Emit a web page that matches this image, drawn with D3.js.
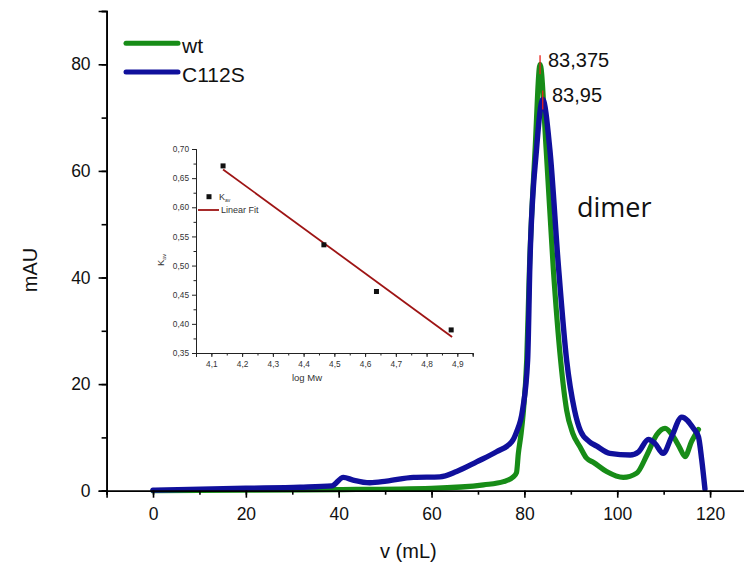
<!DOCTYPE html>
<html>
<head>
<meta charset="utf-8">
<script src="https://cdn.jsdelivr.net/npm/d3@7"></script>
<style>
  html, body { margin: 0; padding: 0; background: #fff; }
  svg { display: block; }
</style>
</head>
<body>
<svg id="chart" width="744" height="566"></svg>
<script>
// ---------------- data ----------------
const seriesNames = ["wt", "C112S"];
const seriesColors = ["#178c17", "#10109c"];

const wtV = [0, 20, 40, 60, 71.2, 75.5, 77.6, 78.3, 78.7, 79.3, 79.8, 80.5, 81.1, 82.3, 83.375, 84.7, 86.2, 87.8, 89.1, 90.4, 92, 93.4, 94.9, 97.7, 101.3, 104.2, 106.4, 108.5, 110.3, 112.1, 113.5, 114.6, 116.0, 117.5];
const wtY = [0, 0.1, 0.2, 0.45, 1.1, 1.7, 2.6, 3.4, 7, 10.8, 15.1, 24.5, 42, 63.9, 80, 63.9, 42, 24.5, 15.1, 10.8, 8.2, 6.1, 5.3, 3.6, 2.5, 3.3, 6.7, 10.5, 11.7, 10.1, 8.0, 6.4, 9.2, 11.5];

const mutV = [0, 20, 31.7, 38.5, 41.0, 43.1, 46.7, 50.3, 56.1, 61.8, 65.4, 69.7, 74.0, 77.3, 78.3, 79.6, 80.7, 81.2, 82.6, 83.95, 85.5, 87.3, 89.1, 90.8, 92.1, 94.0, 95.5, 98.4, 102.8, 104.6, 106.7, 108.1, 109.9, 111.7, 113.9, 116.4, 117.5, 118.2, 118.9];
const mutY = [0.1, 0.45, 0.65, 0.9, 2.5, 2.0, 1.5, 1.8, 2.5, 2.6, 3.6, 5.4, 7.3, 9.2, 11.0, 15.1, 24.5, 43, 63.9, 73.4, 63.9, 42.5, 24.5, 15.1, 11.2, 9.2, 8.4, 7.0, 6.7, 7.3, 9.6, 8.9, 7.0, 10.1, 13.8, 11.7, 10.1, 5.8, 0.3];

const xTicksMajor = [0, 20, 40, 60, 80, 100, 120];
const yTicksMajor = [0, 20, 40, 60, 80];

const peakLabels = ["83,375", "83,95"];
const peakX = [83.375, 83.95];
const peakY = [80, 73.4];

// inset calibration
const insetLogMw = [4.138, 4.466, 4.637, 4.880];
const insetKav = [0.671, 0.5356, 0.4555, 0.3896];
const fitX = [4.138, 4.883];
const fitY = [0.665, 0.3775];
const insetXTicks = [4.1, 4.2, 4.3, 4.4, 4.5, 4.6, 4.7, 4.8, 4.9];
const insetYTicks = [0.35, 0.40, 0.45, 0.50, 0.55, 0.60, 0.65, 0.70];

// ---------------- chart ----------------
const svg = d3.select("#chart");
const FONT = "'Liberation Sans', Arial, sans-serif";

const x = d3.scaleLinear().domain([-10, 130]).range([106.6, 756.5]);
const y = d3.scaleLinear().domain([0, 90]).range([490.7, 11]);

// curves
const line = d3.line().x(d => x(d[0])).y(d => y(d[1])).curve(d3.curveMonotoneX);
const wtData = wtV.map((v, i) => [v, wtY[i]]);
const mutData = mutV.map((v, i) => [v, mutY[i]]);

svg.append("path").datum(wtData).attr("d", line)
  .attr("fill", "none").attr("stroke", seriesColors[0]).attr("stroke-width", 5.2)
  .attr("stroke-linejoin", "round").attr("stroke-linecap", "round");
svg.append("path").datum(mutData).attr("d", line)
  .attr("fill", "none").attr("stroke", seriesColors[1]).attr("stroke-width", 5.4)
  .attr("stroke-linejoin", "round").attr("stroke-linecap", "round");

// x axis
const gx = svg.append("g").attr("transform", `translate(0,${y(0)})`);
gx.call(d3.axisBottom(x).tickValues(d3.range(-10, 131, 10)).tickSize(4).tickFormat(""));
gx.append("g").call(d3.axisBottom(x).tickValues(xTicksMajor).tickSize(7).tickPadding(10)
  .tickFormat(d3.format("d")));
gx.selectAll("path.domain").attr("stroke", "#000").attr("stroke-width", 1.6);
gx.selectAll("line").attr("stroke", "#000").attr("stroke-width", 1.6);
gx.selectAll("text").attr("font-family", FONT).attr("font-size", 17.5).attr("fill", "#111");

// y axis
const gy = svg.append("g").attr("transform", `translate(${x(-10)},0)`);
gy.call(d3.axisLeft(y).tickValues(d3.range(0, 91, 10)).tickSize(5).tickFormat(""));
gy.append("g").call(d3.axisLeft(y).tickValues(yTicksMajor).tickSize(8).tickPadding(8)
  .tickFormat(d3.format("d")));
gy.selectAll("path.domain").attr("stroke", "#000").attr("stroke-width", 1.6);
gy.selectAll("line").attr("stroke", "#000").attr("stroke-width", 1.6);
gy.selectAll("text").attr("font-family", FONT).attr("font-size", 17.5).attr("fill", "#111");

// axis titles
svg.append("text").attr("x", x(55)).attr("y", 558).attr("text-anchor", "middle")
  .attr("font-family", FONT).attr("font-size", 20).attr("fill", "#111").text("v (mL)");
svg.append("text").attr("transform", `translate(37,270) rotate(-90)`).attr("text-anchor", "middle")
  .attr("font-family", FONT).attr("font-size", 20).attr("fill", "#111").text("mAU");

// legend
const legY = [43.3, 72];
seriesNames.forEach((n, i) => {
  svg.append("line").attr("x1", 126).attr("x2", 178).attr("y1", legY[i]).attr("y2", legY[i])
    .attr("stroke", seriesColors[i]).attr("stroke-width", 5).attr("stroke-linecap", "round");
  svg.append("text").attr("x", 182).attr("y", legY[i] + 9.5)
    .attr("font-family", FONT).attr("font-size", 21).attr("fill", "#111").text(n);
});

// peak markers and labels
const peakLabelPos = [[548, 67], [552, 101.5]];
peakX.forEach((px, i) => {
  svg.append("line").attr("x1", x(px)).attr("x2", x(px))
    .attr("y1", y(peakY[i]) - 9).attr("y2", y(peakY[i]) + 10)
    .attr("stroke", "#e8201a").attr("stroke-width", 1.3);
  svg.append("text").attr("x", peakLabelPos[i][0]).attr("y", peakLabelPos[i][1])
    .attr("font-family", FONT).attr("font-size", 20).attr("fill", "#111").text(peakLabels[i]);
});

svg.append("text").attr("x", 577).attr("y", 216.5)
  .attr("font-family", "'Open Sans', sans-serif").attr("font-size", 27).attr("fill", "#111").text("dimer");

// ---------------- inset ----------------
const ix = d3.scaleLinear().domain([4.05, 4.95]).range([196, 472.7]);
const iy = d3.scaleLinear().domain([0.35, 0.70]).range([353, 149]);
const inset = svg.append("g");

const igx = inset.append("g").attr("transform", `translate(0,${iy(0.35)})`);
igx.call(d3.axisBottom(ix).tickValues(d3.range(4.05, 4.951, 0.05)).tickSize(2.5).tickFormat(""));
igx.append("g").call(d3.axisBottom(ix).tickValues(insetXTicks).tickSize(4).tickPadding(4)
  .tickFormat(d => d3.format(".1f")(d).replace(".", ",")));
const igy = inset.append("g").attr("transform", `translate(${ix(4.05)},0)`);
igy.call(d3.axisLeft(iy).tickValues(d3.range(0.375, 0.70, 0.05)).tickSize(2.5).tickFormat(""));
igy.append("g").call(d3.axisLeft(iy).tickValues(insetYTicks).tickSize(4).tickPadding(3)
  .tickFormat(d => d3.format(".2f")(d).replace(".", ",")));
inset.selectAll("path.domain").attr("stroke", "#222").attr("stroke-width", 1);
inset.selectAll("line").attr("stroke", "#222").attr("stroke-width", 1);
inset.selectAll("text").attr("font-family", FONT).attr("font-size", 8.3).attr("fill", "#333");

// fit line
inset.append("line").attr("x1", ix(fitX[0])).attr("y1", iy(fitY[0]))
  .attr("x2", ix(fitX[1])).attr("y2", iy(fitY[1]))
  .attr("stroke", "#9e1414").attr("stroke-width", 1.8);
// points
inset.selectAll("rect.pt").data(insetLogMw.map((v, i) => [v, insetKav[i]])).enter()
  .append("rect").attr("class", "pt")
  .attr("x", d => ix(d[0]) - 2.5).attr("y", d => iy(d[1]) - 2.5)
  .attr("width", 5).attr("height", 5).attr("fill", "#111");

// inset titles
inset.append("text").attr("x", 307).attr("y", 381).attr("text-anchor", "middle")
  .attr("font-family", FONT).attr("font-size", 9.5).attr("fill", "#333").text("log Mw");
const kt = inset.append("text").attr("transform", "translate(164,260) rotate(-90)")
  .attr("text-anchor", "middle").attr("font-family", FONT).attr("font-size", 9.5).attr("fill", "#333");
kt.append("tspan").text("K");
kt.append("tspan").attr("font-size", 5.5).attr("dy", 2).text("av");

// inset legend
inset.append("rect").attr("x", 206.5).attr("y", 194.2).attr("width", 5).attr("height", 5).attr("fill", "#111");
const lt = inset.append("text").attr("x", 219).attr("y", 200)
  .attr("font-family", FONT).attr("font-size", 9).attr("fill", "#333");
lt.append("tspan").text("K");
lt.append("tspan").attr("font-size", 5).attr("dy", 2).text("av");
inset.append("line").attr("x1", 198).attr("x2", 219).attr("y1", 210).attr("y2", 210)
  .attr("stroke", "#9e1414").attr("stroke-width", 1.8);
inset.append("text").attr("x", 221).attr("y", 213)
  .attr("font-family", FONT).attr("font-size", 9).attr("fill", "#333").text("Linear Fit");
</script>
</body>
</html>
